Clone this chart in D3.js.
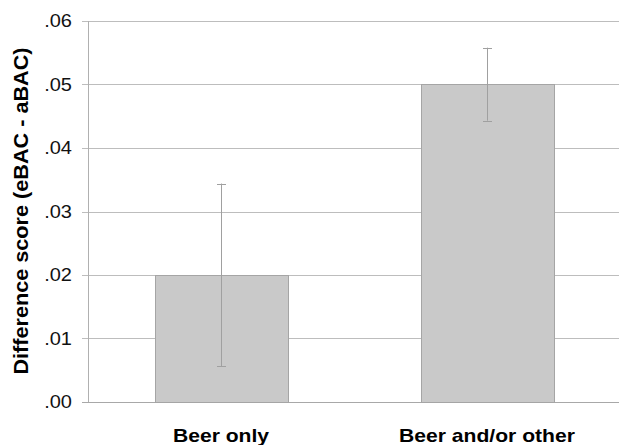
<!DOCTYPE html>
<html>
<head>
<meta charset="utf-8">
<script src="https://cdn.jsdelivr.net/npm/d3@7"></script>
<style>
  body { margin: 0; background: #fff; }
  text { font-family: "Liberation Sans", Arial, sans-serif; }
</style>
</head>
<body>
<div id="chart"></div>
<script>
// chart size
const width = 619
const height = 445
const margin = {top: 21, right: 0, bottom: 43, left: 88}

// data
const groups = ["Beer only", "Beer and/or other"]
const means = [0.020, 0.050]
const errLow = [0.0056, 0.0443]
const errHigh = [0.0344, 0.0558]
const yTicks = [0, 0.01, 0.02, 0.03, 0.04, 0.05, 0.06]

const stretch = 1.11  // text in the original is slightly wide

const svg = d3.select("#chart")
  .append("svg")
    .attr("width", width)
    .attr("height", height)

const x = d3.scaleBand()
  .domain(groups)
  .range([margin.left, margin.left + 532])
  .paddingInner(0.5)
  .paddingOuter(0.25)

const y = d3.scaleLinear()
  .domain([0, 0.06])
  .range([height - margin.bottom, margin.top])

// gridlines
svg.append("g")
  .selectAll("line")
  .data(yTicks)
  .join("line")
    .attr("x1", margin.left - 6)
    .attr("x2", width)
    .attr("y1", d => Math.round(y(d)) + 0.5)
    .attr("y2", d => Math.round(y(d)) + 0.5)
    .attr("stroke", d => d === 0 ? "#a8a8a8" : "#bdbdbd")

// y axis line
svg.append("line")
  .attr("x1", margin.left + 0.5)
  .attr("x2", margin.left + 0.5)
  .attr("y1", y(0.06))
  .attr("y2", y(0))
  .attr("stroke", "#b0b0b0")

// tick labels
svg.append("g")
  .selectAll("text")
  .data(yTicks)
  .join("text")
    .attr("x", 72)
    .attr("y", d => y(d))
    .attr("dy", "0.36em")
    .attr("text-anchor", "end")
    .style("font-size", "18px")
    .attr("fill", "#111")
    .text(d => d3.format(".2f")(d).replace(/^0/, ""))

// bars
svg.append("g")
  .selectAll("rect")
  .data(groups)
  .join("rect")
    .attr("x", d => Math.round(x(d)) + 0.5)
    .attr("y", (d, i) => Math.round(y(means[i])) + 0.5)
    .attr("width", x.bandwidth())
    .attr("height", (d, i) => Math.round(y(0)) - Math.round(y(means[i])))
    .attr("fill", "#c9c9c9")
    .attr("stroke", "#a5a5a5")

// error bars
const err = svg.append("g")
  .selectAll("g")
  .data(groups)
  .join("g")
    .attr("stroke", "#a0a0a0")

err.append("line")
  .attr("x1", d => Math.round(x(d) + x.bandwidth() / 2) + 0.5)
  .attr("x2", d => Math.round(x(d) + x.bandwidth() / 2) + 0.5)
  .attr("y1", (d, i) => y(errLow[i]))
  .attr("y2", (d, i) => y(errHigh[i]))

err.selectAll(".cap")
  .data((d, i) => [{g: d, v: errLow[i]}, {g: d, v: errHigh[i]}])
  .join("line")
    .attr("class", "cap")
    .attr("x1", d => x(d.g) + x.bandwidth() / 2 - 4)
    .attr("x2", d => x(d.g) + x.bandwidth() / 2 + 5)
    .attr("y1", d => Math.round(y(d.v)) + 0.5)
    .attr("y2", d => Math.round(y(d.v)) + 0.5)

// category labels
svg.append("g")
  .selectAll("text")
  .data(groups)
  .join("text")
    .attr("x", d => x(d) + x.bandwidth() / 2)
    .attr("y", 442)
    .attr("text-anchor", "middle")
    .style("font-size", "19px")
    .style("font-weight", "bold")
    .attr("fill", "#000")
    .text(d => d)

// y axis title
svg.append("text")
  .attr("transform", "translate(28," + 211 + ") rotate(-90)")
  .attr("text-anchor", "middle")
  .style("font-size", "19.5px")
  .style("font-weight", "bold")
  .attr("fill", "#000")
  .text("Difference score (eBAC - aBAC)")

// widen all text a little to match the original
svg.selectAll("text").each(function() {
  const len = this.getComputedTextLength()
  d3.select(this)
    .attr("textLength", len * stretch)
    .attr("lengthAdjust", "spacingAndGlyphs")
})
</script>
</body>
</html>
